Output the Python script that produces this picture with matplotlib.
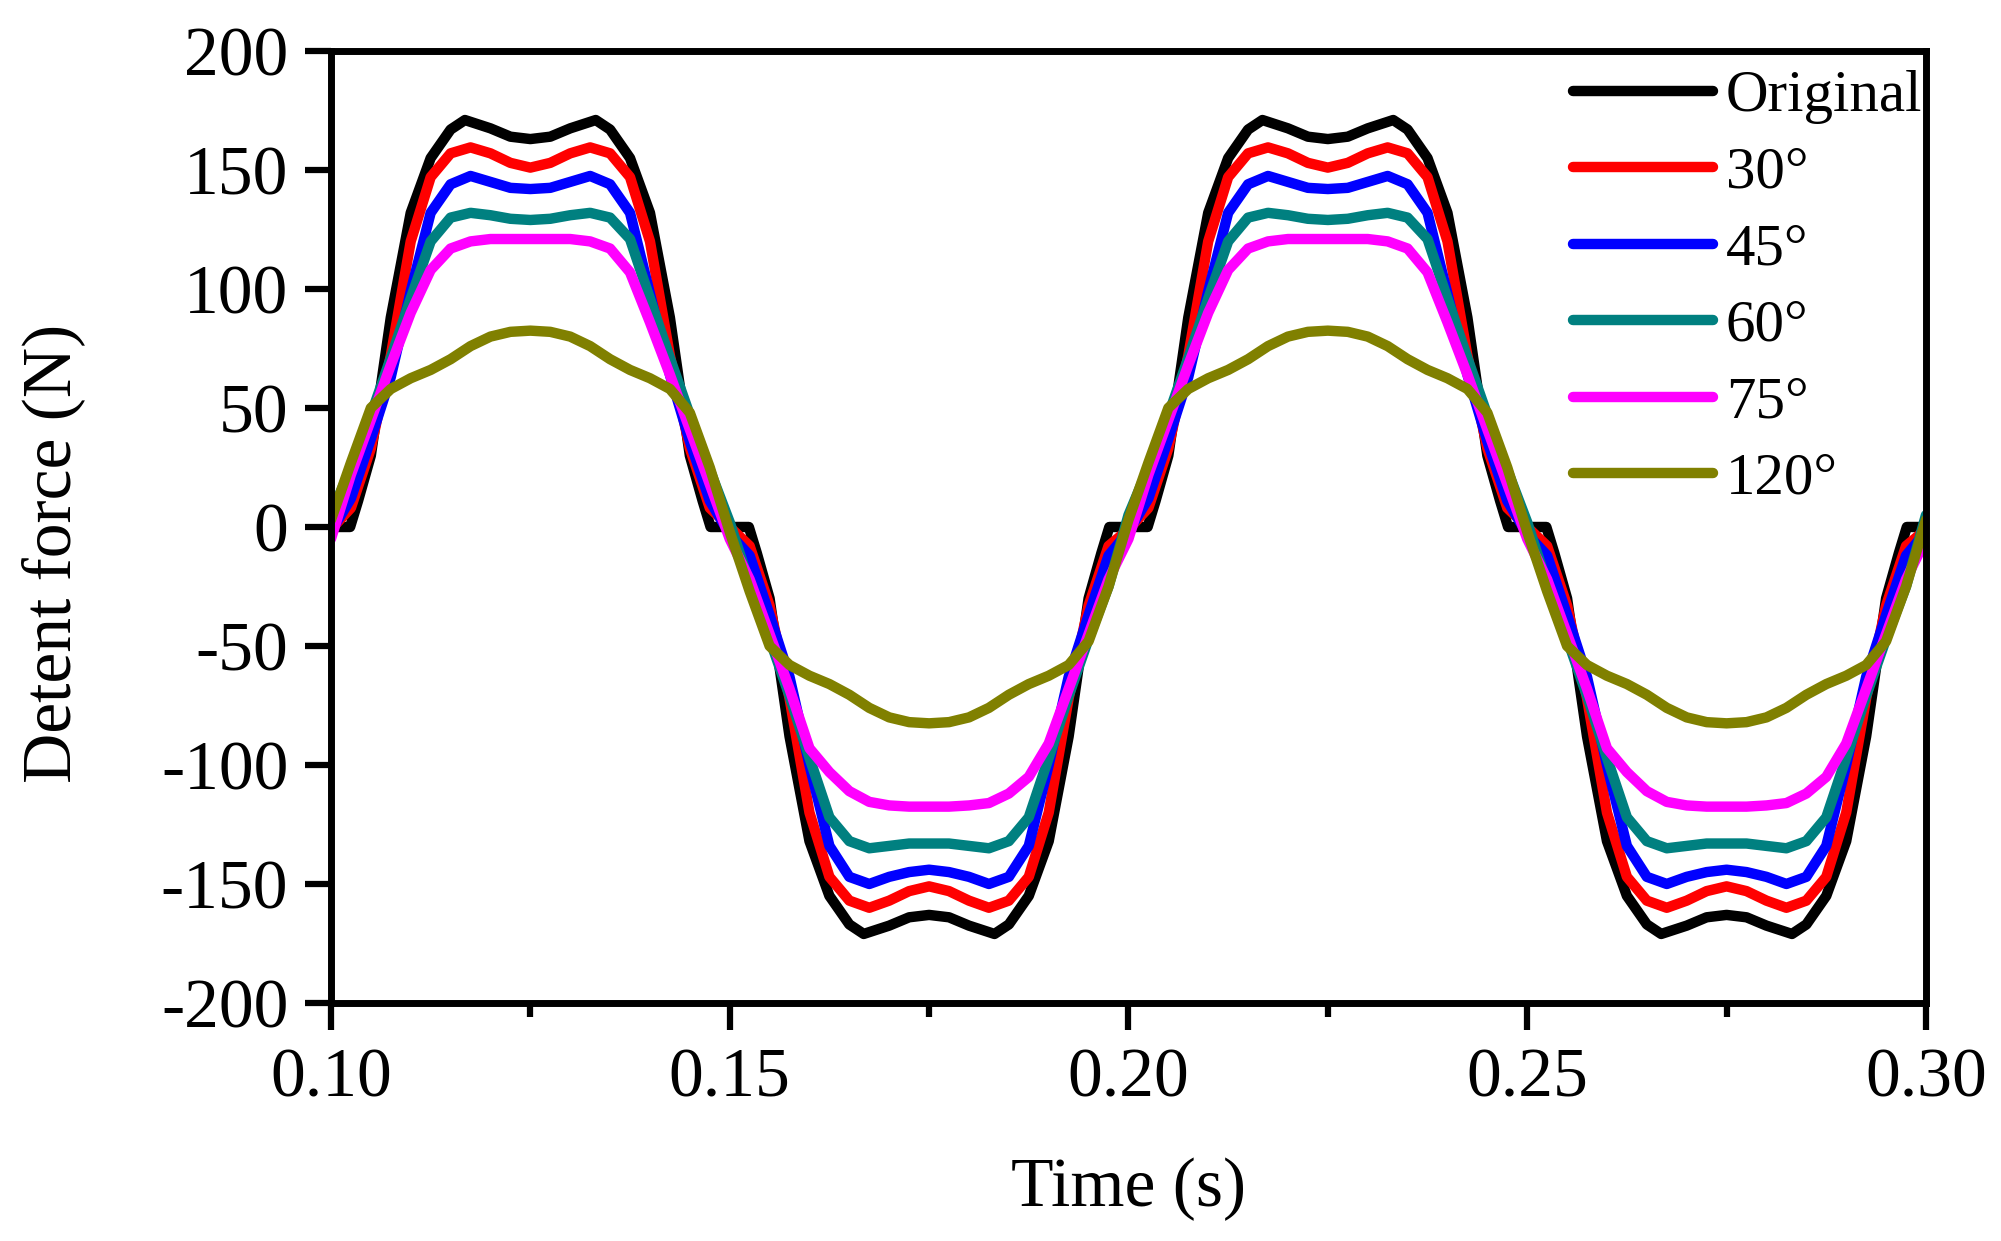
import matplotlib
matplotlib.use('Agg')
import matplotlib.pyplot as plt
from matplotlib.ticker import MultipleLocator, FormatStrFormatter

plt.rcParams['font.family'] = ['Liberation Serif', 'DejaVu Serif']
plt.rcParams['axes.unicode_minus'] = False

# sampling time for the five smoothed curves (s)
time = [0.1000, 0.1025, 0.1050, 0.1075, 0.1100, 0.1125, 0.1150, 0.1175, 0.1200, 0.1225,
        0.1250, 0.1275, 0.1300, 0.1325, 0.1350, 0.1375, 0.1400, 0.1425, 0.1450, 0.1475,
        0.1500, 0.1525, 0.1550, 0.1575, 0.1600, 0.1625, 0.1650, 0.1675, 0.1700, 0.1725,
        0.1750, 0.1775, 0.1800, 0.1825, 0.1850, 0.1875, 0.1900, 0.1925, 0.1950, 0.1975,
        0.2000, 0.2025, 0.2050, 0.2075, 0.2100, 0.2125, 0.2150, 0.2175, 0.2200, 0.2225,
        0.2250, 0.2275, 0.2300, 0.2325, 0.2350, 0.2375, 0.2400, 0.2425, 0.2450, 0.2475,
        0.2500, 0.2525, 0.2550, 0.2575, 0.2600, 0.2625, 0.2650, 0.2675, 0.2700, 0.2725,
        0.2750, 0.2775, 0.2800, 0.2825, 0.2850, 0.2875, 0.2900, 0.2925, 0.2950, 0.2975,
        0.3000]

# original design has its own points (flat steps at the zero crossings)
time_orig = [0.1000, 0.1024, 0.1034, 0.1050, 0.1075, 0.1100, 0.1125, 0.1150, 0.1168, 0.1200, 0.1225,
             0.1250, 0.1275, 0.1300, 0.1332, 0.1350, 0.1375, 0.1400, 0.1425, 0.1450, 0.1466, 0.1476,
             0.1500, 0.1524, 0.1534, 0.1550, 0.1575, 0.1600, 0.1625, 0.1650, 0.1668, 0.1700, 0.1725,
             0.1750, 0.1775, 0.1800, 0.1832, 0.1850, 0.1875, 0.1900, 0.1925, 0.1950, 0.1966, 0.1976,
             0.2000, 0.2024, 0.2034, 0.2050, 0.2075, 0.2100, 0.2125, 0.2150, 0.2168, 0.2200, 0.2225,
             0.2250, 0.2275, 0.2300, 0.2332, 0.2350, 0.2375, 0.2400, 0.2425, 0.2450, 0.2466, 0.2476,
             0.2500, 0.2524, 0.2534, 0.2550, 0.2575, 0.2600, 0.2625, 0.2650, 0.2668, 0.2700, 0.2725,
             0.2750, 0.2775, 0.2800, 0.2832, 0.2850, 0.2875, 0.2900, 0.2925, 0.2950, 0.2966, 0.2976,
             0.3000]
force_orig = [0, 0, 11, 30, 88, 132, 155, 167, 171, 167.5, 164,
              163, 164, 167.5, 171, 167, 155, 132, 88, 30, 11, 0,
              0, 0, -11, -30, -88, -132, -155, -167, -171, -167.5, -164,
              -163, -164, -167.5, -171, -167, -155, -132, -88, -30, -11, 0,
              0, 0, 11, 30, 88, 132, 155, 167, 171, 167.5, 164,
              163, 164, 167.5, 171, 167, 155, 132, 88, 30, 11, 0,
              0, 0, -11, -30, -88, -132, -155, -167, -171, -167.5, -164,
              -163, -164, -167.5, -171, -167, -155, -132, -88, -30, -11, 0,
              0]

force_30 = [-1, 8, 33, 72, 120, 147, 157, 159.5, 157, 153,
            151, 153, 157, 159.5, 157, 147, 120, 72, 33, 8,
            0, -8, -33, -72, -120, -147, -157, -160, -157, -153,
            -151, -153, -157, -160, -157, -147, -120, -72, -33, -8,
            -1, 8, 33, 72, 120, 147, 157, 159.5, 157, 153,
            151, 153, 157, 159.5, 157, 147, 120, 72, 33, 8,
            0, -8, -33, -72, -120, -147, -157, -160, -157, -153,
            -151, -153, -157, -160, -157, -147, -120, -72, -33, -8,
            -1]

force_45 = [-2, 12, 37, 63, 99, 132, 144, 147.5, 145, 142.5,
            142, 142.5, 145, 147.5, 144, 132, 98, 64, 36, 11,
            -3, -12, -37, -63, -100, -134, -147, -150, -147, -145,
            -144, -145, -147, -150, -147, -134, -100, -63, -37, -12,
            -2, 12, 37, 63, 99, 132, 144, 147.5, 145, 142.5,
            142, 142.5, 145, 147.5, 144, 132, 98, 64, 36, 11,
            -3, -12, -37, -63, -100, -134, -147, -150, -147, -145,
            -144, -145, -147, -150, -147, -134, -100, -63, -37, -12,
            -2]

force_60 = [5, 25, 47, 71, 96, 120, 130, 132, 131, 129.5,
            129, 129.5, 131, 132, 130, 121, 96, 71, 47, 24,
            2, -24, -47, -71, -97, -122, -132, -135, -134, -133,
            -133, -133, -134, -135, -132, -122, -97, -71, -47, -25,
            5, 25, 47, 71, 96, 120, 130, 132, 131, 129.5,
            129, 129.5, 131, 132, 130, 121, 96, 71, 47, 24,
            2, -24, -47, -71, -97, -122, -132, -135, -134, -133,
            -133, -133, -134, -135, -132, -122, -97, -71, -47, -25,
            5]

force_75 = [-5, 22, 45, 68, 90, 108, 117, 120, 121, 121,
            121, 121, 121, 120, 117, 107, 86, 64, 41, 18,
            -5, -22, -45, -68, -93, -103, -111, -115.5, -117, -117.5,
            -117.5, -117.5, -117, -116, -112, -105, -91, -68, -45, -22,
            -5, 22, 45, 68, 90, 108, 117, 120, 121, 121,
            121, 121, 121, 120, 117, 107, 86, 64, 41, 18,
            -5, -22, -45, -68, -93, -103, -111, -115.5, -117, -117.5,
            -117.5, -117.5, -117, -116, -112, -105, -91, -68, -45, -22,
            -5]

force_120 = [3, 27, 50, 58, 62.5, 66, 70.5, 76, 80, 82,
             82.5, 82, 80, 76, 70.5, 66, 62.5, 58, 48, 25,
             -2, -27, -50, -58, -62.5, -66, -70.5, -76, -80, -82,
             -82.5, -82, -80, -76, -70.5, -66, -62.5, -58, -48, -25,
             3, 27, 50, 58, 62.5, 66, 70.5, 76, 80, 82,
             82.5, 82, 80, 76, 70.5, 66, 62.5, 58, 48, 25,
             -2, -27, -50, -58, -62.5, -66, -70.5, -76, -80, -82,
             -82.5, -82, -80, -76, -70.5, -66, -62.5, -58, -48, -25,
             3]

labels = ['Original', '30°', '45°', '60°', '75°', '120°']
colors = ['#000000', '#ff0000', '#0000ff', '#008080', '#ff00ff', '#808000']

fig = plt.figure(figsize=(20.01, 12.41), dpi=100)
ax = fig.add_axes([0.1654, 0.1918, 0.7971, 0.7671])

series = [(time_orig, force_orig), (time, force_30), (time, force_45),
          (time, force_60), (time, force_75), (time, force_120)]
for (t, f), lab, c in zip(series, labels, colors):
    ax.plot(t, f, color=c, lw=7.5, label=lab,
            solid_joinstyle='round', solid_capstyle='round')

ax.set_xlim(0.10, 0.30)
ax.set_ylim(-200, 200)
ax.xaxis.set_major_locator(MultipleLocator(0.05))
ax.xaxis.set_minor_locator(MultipleLocator(0.025))
ax.xaxis.set_major_formatter(FormatStrFormatter('%.2f'))
ax.yaxis.set_major_locator(MultipleLocator(50))

for sp in ax.spines.values():
    sp.set_linewidth(5)
ax.tick_params(axis='x', which='major', direction='out', length=19.5, width=4.5,
               pad=13, labelsize=50)
ax.tick_params(axis='x', which='minor', direction='out', length=10, width=4.5)
ax.tick_params(axis='y', which='major', direction='out', length=18.7, width=4.5,
               pad=12, labelsize=50)
ax.tick_params(top=False, right=False)

ax.set_xlabel('Time (s)', fontsize=50)
ax.set_ylabel('Detent force (N)', fontsize=50)
ax.xaxis.set_label_coords(0.5, -0.162)
ax.yaxis.set_label_coords(-0.154, 0.472)

ax.legend(loc='upper left', bbox_to_anchor=(0.7787, 0.980), frameon=False,
          fontsize=42.5, handlelength=2.37, handletextpad=0.22,
          labelspacing=0.375, borderpad=0, borderaxespad=0)

fig.savefig('out.png', dpi=100)
